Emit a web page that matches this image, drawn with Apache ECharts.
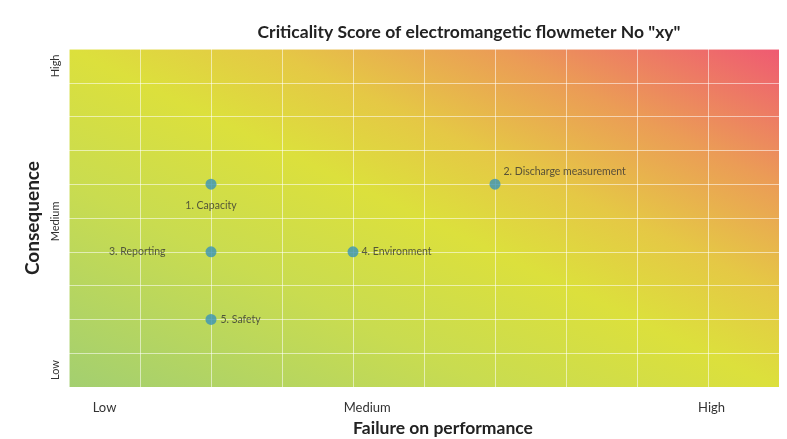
<!DOCTYPE html>
<html>
<head>
<meta charset="utf-8">
<script src="https://cdn.jsdelivr.net/npm/echarts@6/dist/echarts.min.js"></script>
<style>
  html, body { margin: 0; padding: 0; background: #fff; }
  #chart { width: 787px; height: 439px; }
</style>
</head>
<body>
<div id="chart"></div>
<script>
// criteria and their scores (0-10 scale)
const names = ["1. Capacity", "2. Discharge measurement", "3. Reporting", "4. Environment", "5. Safety"];
const failure = [2, 6, 2, 4, 2];
const consequence = [6, 6, 4, 4, 2];

// axis tick labels and where they sit on the 0-10 scale
const xTickLabels = ["Low", "Medium", "High"];
const xTickPos = [0.5, 4.2, 9.05];
const yTickLabels = ["Low", "Medium", "High"];
const yTickPos = [0.5, 4.9, 9.5];

// label placement per point
const labelStyle = [
  { position: "bottom", distance: 10 },
  { position: "right", distance: 3, offset: [0, -13] },
  { position: "left", distance: 40 },
  { position: "right", distance: 3 },
  { position: "right", distance: 4 },
];

const font = "Lato, 'Open Sans', sans-serif";

let chartDom = document.getElementById("chart");
let myChart = echarts.init(chartDom);

const points = names.map((n, i) => {
  return {
    name: n,
    value: [failure[i], consequence[i]],
    label: labelStyle[i],
  };
});

function tickName(labels, pos) {
  return (v) => {
    const i = pos.findIndex((p) => Math.abs(p - v) < 1e-6);
    return i >= 0 ? labels[i] : "";
  };
}

myChart.setOption({
  animation: false,
  title: {
    text: 'Criticality Score of electromangetic flowmeter No "xy"',
    left: 464,
    textAlign: "center",
    top: 18,
    textStyle: { fontFamily: font, fontSize: 17.5, fontWeight: "bold", color: "#222" },
  },
  grid: {
    left: 69,
    right: 8,
    top: 49,
    bottom: 52,
    outerBoundsMode: "none",
    show: true,
    borderWidth: 0,
    // diagonal colour ramp: green bottom-left -> yellow -> pink top-right
    backgroundColor: new echarts.graphic.LinearGradient(0, 1, 0.37, -0.63, [
      { offset: 0, color: "#a3cf70" },
      { offset: 0.3, color: "#c9dc50" },
      { offset: 0.5, color: "#dce03c" },
      { offset: 0.64, color: "#e5c845" },
      { offset: 0.8, color: "#eb9c56" },
      { offset: 1, color: "#ef5a72" },
    ]),
  },
  xAxis: {
    type: "value",
    min: 0,
    max: 10,
    interval: 1,
    name: "Failure on performance",
    nameLocation: "middle",
    nameGap: 27,
    nameTextStyle: { fontFamily: font, fontSize: 17.5, fontWeight: "bold", color: "#222", padding: [0, 0, 0, 38] },
    axisLine: { show: false },
    axisTick: { show: false },
    axisLabel: {
      customValues: xTickPos,
      formatter: tickName(xTickLabels, xTickPos),
      fontFamily: font,
      fontSize: 13,
      color: "#333",
      margin: 14,
    },
    splitLine: { lineStyle: { color: "rgba(255,255,255,0.55)", width: 1 } },
  },
  yAxis: {
    type: "value",
    min: 0,
    max: 10,
    interval: 1,
    name: "Consequence",
    nameLocation: "middle",
    nameGap: 26,
    nameTextStyle: { fontFamily: font, fontSize: 19, fontWeight: "bold", color: "#222" },
    axisLine: { show: false },
    axisTick: { show: false },
    axisLabel: {
      customValues: yTickPos,
      formatter: tickName(yTickLabels, yTickPos),
      rotate: 90,
      fontFamily: font,
      fontSize: 11,
      color: "#333",
      margin: 8,
    },
    splitLine: { lineStyle: { color: "rgba(255,255,255,0.55)", width: 1 } },
  },
  series: [
    {
      type: "scatter",
      symbolSize: 11,
      itemStyle: { color: "#3a93b8" },
      label: {
        show: true,
        formatter: "{b}",
        fontFamily: font,
        fontSize: 10.5,
        color: "#333",
      },
      data: points,
    },
  ],
});
</script>
</body>
</html>
